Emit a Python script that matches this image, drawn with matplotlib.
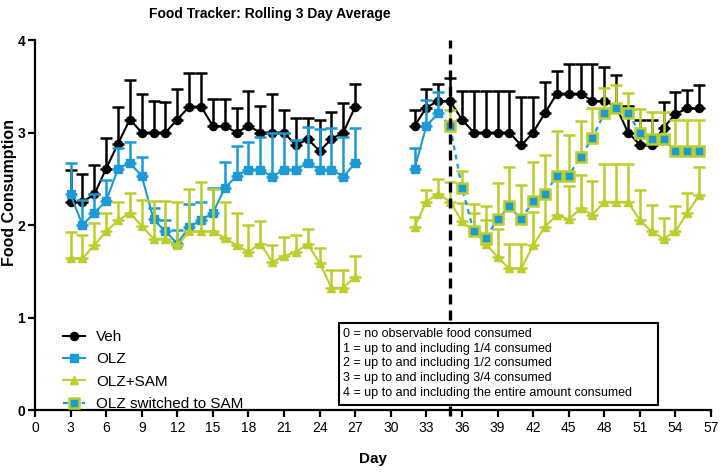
import numpy as np
import matplotlib
matplotlib.use("Agg")
import matplotlib.pyplot as plt
from matplotlib.lines import Line2D
from matplotlib.patches import Rectangle

plt.rcParams['font.family'] = ['Liberation Sans', 'DejaVu Sans']

# ---------------- data ----------------
veh_days = list(range(3, 28)) + list(range(32, 57))
veh_vals = [2.25, 2.25, 2.33, 2.61, 2.88, 3.14, 3.0, 3.0, 3.0, 3.14, 3.28, 3.28, 3.07, 3.07, 3.0,
            3.07, 3.0, 3.0, 3.0, 2.86, 2.93, 2.8, 2.93, 3.0, 3.28,
            3.07, 3.27, 3.34, 3.34, 3.14, 3.0, 3.0, 3.0, 3.0, 2.86, 3.0, 3.21, 3.42, 3.42, 3.42,
            3.34, 3.34, 3.28, 3.0, 2.87, 2.87, 3.05, 3.2, 3.26, 3.26]
veh_err = [0.35, 0.3, 0.32, 0.33, 0.4, 0.43, 0.42, 0.34, 0.33, 0.33, 0.36, 0.36, 0.29, 0.29, 0.27,
           0.38, 0.29, 0.42, 0.24, 0.3, 0.23, 0.34, 0.29, 0.32, 0.24,
           0.17, 0.2, 0.18, 0.25, 0.31, 0.45, 0.45, 0.45, 0.45, 0.52, 0.38, 0.34, 0.24, 0.32, 0.32,
           0.4, 0.37, 0.34, 0.29, 0.26, 0.26, 0.28, 0.24, 0.2, 0.25]

olz_days = list(range(3, 28)) + [32, 33, 34]
olz_vals = [2.33, 2.0, 2.13, 2.26, 2.61, 2.67, 2.53, 2.06, 1.93, 1.8, 1.98, 2.05, 2.13, 2.4, 2.53,
            2.6, 2.6, 2.52, 2.6, 2.6, 2.67, 2.6, 2.6, 2.52, 2.67,
            2.61, 3.07, 3.21]
olz_err = [0.34, 0.27, 0.2, 0.23, 0.22, 0.23, 0.21, 0.12, 0.12, 0.15, 0.25, 0.2, 0.27, 0.28, 0.32,
           0.3, 0.35, 0.48, 0.4, 0.32, 0.39, 0.44, 0.45, 0.43, 0.38,
           0.22, 0.28, 0.23]

sam_days = list(range(3, 28)) + list(range(32, 57))
sam_vals = [1.64, 1.64, 1.78, 1.93, 2.05, 2.13, 1.99, 1.85, 1.85, 1.78, 1.93, 1.93, 1.93, 1.86, 1.78,
            1.71, 1.8, 1.6, 1.66, 1.71, 1.79, 1.59, 1.32, 1.32, 1.44,
            1.98, 2.25, 2.34, 2.25, 2.04, 1.93, 1.8, 1.65, 1.53, 1.53, 1.78, 1.98, 2.11, 2.06,
            2.18, 2.11, 2.25, 2.25, 2.25, 2.05, 1.93, 1.85, 1.93, 2.13, 2.32]
sam_err = [0.28, 0.25, 0.24, 0.2, 0.2, 0.22, 0.28, 0.41, 0.41, 0.47, 0.46, 0.54, 0.46, 0.39, 0.35,
           0.29, 0.24, 0.18, 0.21, 0.18, 0.17, 0.16, 0.19, 0.19, 0.22,
           0.11, 0.13, 0.16, 0.21, 0.2, 0.2, 0.25, 0.31, 0.27, 0.27, 0.36, 0.35, 0.4, 0.36,
           0.36, 0.37, 0.41, 0.41, 0.41, 0.33, 0.29, 0.23, 0.27, 0.22, 0.31]

sw_days = list(range(35, 57))
sw_vals = [3.07, 2.4, 1.93, 1.86, 2.06, 2.2, 2.06, 2.26, 2.34, 2.53, 2.53, 2.74, 2.94, 3.21,
           3.27, 3.21, 3.0, 2.93, 2.93, 2.8, 2.8, 2.8]
sw_err = [0.17, 0.18, 0.3, 0.34, 0.39, 0.43, 0.37, 0.42, 0.42, 0.49, 0.44, 0.38, 0.33, 0.27,
          0.24, 0.22, 0.25, 0.29, 0.29, 0.33, 0.33, 0.33]

switch_day = 35
x_ticks = list(range(0, 58, 3))
y_ticks = [0, 1, 2, 3, 4]
labels = ["Veh", "OLZ", "OLZ+SAM", "OLZ switched to SAM"]
scale_text = ["0 = no observable food consumed",
              "1 = up to and including 1/4 consumed",
              "2 = up to and including 1/2 consumed",
              "3 = up to and including 3/4 consumed",
              "4 = up to and including the entire amount consumed"]

BLACK = "#000000"
BLUE = "#1B9AD6"
GREEN = "#BBCE2B"

# ---------------- figure ----------------
W, H = 721, 473
fig = plt.figure(figsize=(W / 100, H / 100), dpi=100)
ax = fig.add_axes([35 / W, 63 / H, 676 / W, 370 / H])

def eb(days, vals, err, color):
    ax.errorbar(days, vals, yerr=[np.zeros(len(err)), err], fmt='none', ecolor=color,
                elinewidth=1.8, capsize=4.5, capthick=1.8, clip_on=False)

eb(veh_days, veh_vals, veh_err, BLACK)
for xs, ys in [(veh_days[:25], veh_vals[:25]), (veh_days[25:], veh_vals[25:])]:
    ax.plot(xs, ys, color=BLACK, lw=1.5, marker='o', ms=5.8, clip_on=False)

eb(olz_days, olz_vals, olz_err, BLUE)
for xs, ys in [(olz_days[:25], olz_vals[:25]), (olz_days[25:], olz_vals[25:])]:
    ax.plot(xs, ys, color=BLUE, lw=1.5, marker='s', ms=5.5, clip_on=False)

eb(sam_days, sam_vals, sam_err, GREEN)
for xs, ys in [(sam_days[:25], sam_vals[:25]), (sam_days[25:], sam_vals[25:])]:
    ax.plot(xs, ys, color=GREEN, lw=1.5, marker='^', ms=6, clip_on=False)

eb(sw_days, sw_vals, sw_err, GREEN)
ax.plot([olz_days[-1]] + sw_days, [olz_vals[-1]] + sw_vals, color=BLUE, lw=1.6,
        linestyle=(0, (2.2, 2)), clip_on=False)
ax.plot(sw_days, sw_vals, linestyle='none', marker='s', ms=7, mfc=BLUE, mec=GREEN,
        mew=1.8, clip_on=False)

# vertical dashed line
ax.plot([switch_day, switch_day], [-0.07, 4.0], color=BLACK, lw=2.4,
        linestyle=(0, (3, 1.8)), clip_on=False, zorder=5)

# axes styling
ax.set_xlim(0, 57)
ax.set_ylim(0, 4)
ax.set_xticks(x_ticks)
ax.set_yticks(y_ticks)
for s in ['top', 'right']:
    ax.spines[s].set_visible(False)
for s in ['left', 'bottom']:
    ax.spines[s].set_linewidth(1.6)
ax.tick_params(axis='both', direction='out', length=5, width=1.6)
ax.tick_params(axis='x', labelsize=10, pad=3)
ax.tick_params(axis='y', labelsize=10, pad=2)
for t in ax.get_yticklabels():
    t.set_fontweight('bold')

# legend
handles = [
    Line2D([], [], color=BLACK, lw=1.5, marker='o', ms=5.8),
    Line2D([], [], color=BLUE, lw=1.5, marker='s', ms=5.5),
    Line2D([], [], color=GREEN, lw=1.5, marker='^', ms=6),
    Line2D([], [], color=BLUE, lw=1.6, linestyle=(0, (2.2, 2)), marker='s', ms=7,
           mfc=BLUE, mec=GREEN, mew=1.8),
]
ax.legend(handles, labels, loc='upper left', bbox_to_anchor=((63 - 35) / 676, (410 - 330) / 370),
          frameon=False, fontsize=11, handlelength=1.45, handletextpad=0.7,
          labelspacing=0.55, borderpad=0, borderaxespad=0)

# scale box
ax.add_patch(Rectangle(((339 - 35) / 676, (410 - 405) / 370), (658 - 339) / 676, (405 - 323) / 370,
                       transform=ax.transAxes, fill=True, fc='white', ec=BLACK, lw=1.5,
                       zorder=6, clip_on=False))
ax.text((343 - 35) / 676, (410 - 328) / 370, "\n".join(scale_text), transform=ax.transAxes,
        ha='left', va='top', fontsize=9, linespacing=1.3, zorder=7)

# titles
fig.text(270 / W, 1 - 14 / H, "Food Tracker: Rolling 3 Day Average",
         ha='center', va='center', fontsize=10, fontweight='bold')
fig.text(10 / W, 1 - 193 / H, "Food Consumption", rotation=90, ha='center', va='center',
         fontsize=11.5, fontweight='bold')
fig.text(373 / W, 1 - 459 / H, "Day", ha='center', va='center', fontsize=11, fontweight='bold')

fig.savefig("out.png", dpi=100)
